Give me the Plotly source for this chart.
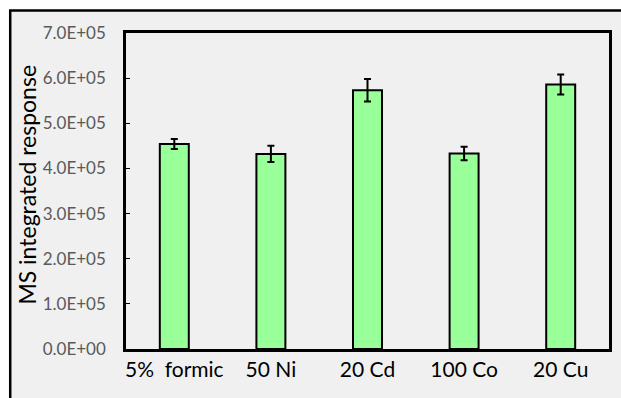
import plotly.graph_objects as go

categories = ["5%  formic", "50 Ni", "20 Cd", "100 Co", "20 Cu"]
values = [4.54e5, 4.32e5, 5.73e5, 4.33e5, 5.86e5]
errors = [0.11e5, 0.18e5, 0.25e5, 0.15e5, 0.22e5]
y_ticks = [0, 1e5, 2e5, 3e5, 4e5, 5e5, 6e5, 7e5]
y_tick_labels = ["0.0E+00", "1.0E+05", "2.0E+05", "3.0E+05", "4.0E+05", "5.0E+05", "6.0E+05", "7.0E+05"]

FW, FH = 621, 398
L, T, W, H = 126, 33, 486, 316

def px(x): return (x - L) / W
def py(y): return (T + H - y) / H

fig = go.Figure()
fig.add_trace(go.Bar(
    x=categories, y=values,
    width=0.30,
    marker=dict(color="#99ff99", line=dict(color="black", width=2)),
    error_y=dict(type="data", array=errors, color="black", thickness=2, width=3.5),
))

fig.add_shape(type="rect", xref="paper", yref="paper",
              x0=px(9.5), x1=px(680), y0=py(10.5), y1=py(460),
              fillcolor="#f0f0f0", line=dict(color="black", width=2.5), layer="below")

fig.add_annotation(text="MS integrated response", xref="paper", yref="paper",
                   x=px(26), y=py(185), textangle=-90, showarrow=False,
                   xanchor="center", yanchor="middle",
                   font=dict(size=23, color="black"))

fig.update_layout(
    width=FW, height=FH,
    margin=dict(l=L, r=FW - L - W, t=T, b=FH - T - H),
    paper_bgcolor="white", plot_bgcolor="rgba(0,0,0,0)",
    showlegend=False,
    font=dict(family="Lato, Open Sans, sans-serif"),
)
fig.update_xaxes(
    showline=True, linecolor="black", linewidth=2.5, mirror=True,
    tickfont=dict(size=21, color="black"), ticks="",
)
fig.update_yaxes(
    range=[0, 7e5], tickvals=y_ticks, ticktext=y_tick_labels,
    showline=True, linecolor="black", linewidth=2.5, mirror=True,
    showgrid=False, zeroline=False,
    ticks="inside", ticklen=4, tickcolor="black", tickwidth=1,
    ticklabelstandoff=14,
    tickfont=dict(size=17, color="#595959"),
)
fig.write_html("out.html", config={"displayModeBar": False},
               post_script="document.body.style.margin='0';document.body.style.overflow='hidden';")
